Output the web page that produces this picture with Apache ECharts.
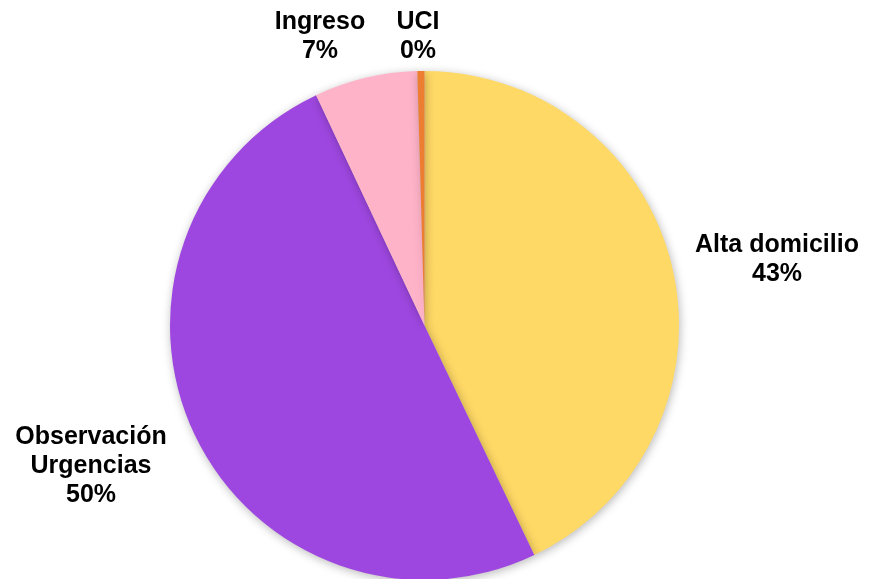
<!DOCTYPE html>
<html>
<head>
<meta charset="utf-8">
<script src="https://cdn.jsdelivr.net/npm/echarts@6/dist/echarts.min.js"></script>
<style>
html,body{margin:0;padding:0;background:#fff;}
#chart{width:874px;height:579px;}
</style>
</head>
<body>
<div id="chart"></div>
<script>
var categories = ['Alta domicilio', 'Observación\nUrgencias', 'Ingreso', 'UCI'];
var values = [42.9, 50.1, 6.55, 0.45];
var colors = ['#FFD966', '#9E47E0', '#FFB3C9', '#ED7D31'];

// label anchor points (centre of each label block), in pixels
var labelAnchors = [[777, 260], [91, 466], [320, 37], [418, 37]];

var chart = echarts.init(document.getElementById('chart'));
chart.setOption({
  animation: false,
  backgroundColor: '#ffffff',
  series: [{
    type: 'pie',
    center: [424.5, 325.5],
    radius: [0, 254.5],
    startAngle: 90,
    clockwise: true,
    percentPrecision: 0,
    data: categories.map(function (c, i) {
      return { name: c, value: values[i], itemStyle: { color: colors[i] } };
    }),
    itemStyle: {
      borderWidth: 0,
      shadowBlur: 10,
      shadowColor: 'rgba(0,0,0,0.28)',
      shadowOffsetX: 1,
      shadowOffsetY: 2
    },
    label: {
      show: true,
      position: 'outside',
      formatter: '{b}\n{d}%',
      color: '#000',
      fontFamily: 'Liberation Sans, Arial, sans-serif',
      fontWeight: 'bold',
      fontSize: 25,
      lineHeight: 29,
      align: 'center',
      overflow: 'none',
      width: 300
    },
    labelLine: { show: false },
    labelLayout: function (p) {
      var a = labelAnchors[p.dataIndex];
      return { x: a[0], y: a[1], align: 'center', verticalAlign: 'middle' };
    },
    emphasis: { disabled: true }
  }]
});
</script>
</body>
</html>
